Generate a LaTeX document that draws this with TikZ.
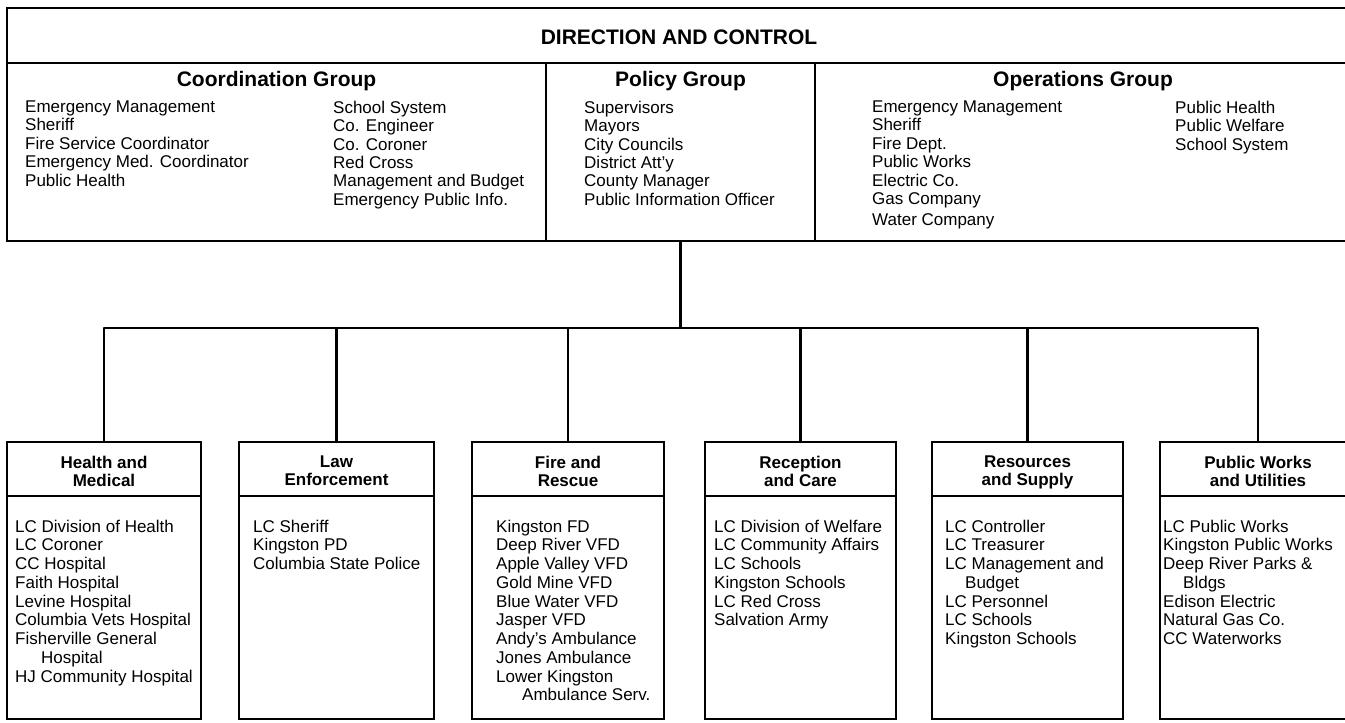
\documentclass[tikz,border=0pt]{standalone}
\usepackage{fontspec}
\setmainfont{Liberation Sans}
\begin{document}
\begin{tikzpicture}[x=1pt,y=-1pt,
  boxframe/.style={draw, line width=2.6pt, rectangle, inner sep=0pt, outer sep=0pt, anchor=north west},
  link/.style={line width=2.6pt, line join=round},
  bigtxt/.style={font=\bfseries\fontsize{21}{24}\selectfont, anchor=base, inner sep=0pt},
  headtxt/.style={font=\bfseries\fontsize{17}{18}\selectfont, align=center, anchor=north, inner sep=0pt},
  toplist/.style={font=\fontsize{17}{18.4}\selectfont, align=left, anchor=north west, inner sep=0pt},
  sublist/.style={font=\fontsize{17}{18.75}\selectfont, align=left, anchor=north west, inner sep=0pt}]
\clip (0,0) rectangle (1345,723);
\fill[white] (0,0) rectangle (1345,723);

% Direction and control frame
\node[boxframe, minimum width=1344pt, minimum height=55pt] (dc) at (7,8) {};
\node[boxframe, minimum width=539pt, minimum height=178pt] (coord) at (7,63) {};
\node[boxframe, minimum width=269pt, minimum height=178pt] (policy) at (546,63) {};
\node[boxframe, minimum width=536pt, minimum height=178pt] (ops) at (815,63) {};

\node[bigtxt] (dct) at (679,44.5) {DIRECTION AND CONTROL};
\node[bigtxt] (coordt) at (276.5,86) {Coordination Group};
\node[bigtxt] (policyt) at (680.5,86) {Policy Group};
\node[bigtxt] (opst) at (1083,86) {Operations Group};

\node[toplist] (coordA) at (25,100.7) {Emergency Management\\Sheriff\\Fire Service Coordinator\\Emergency Med. Coordinator\\Public Health};
\node[toplist] (coordB) at (333,100.7) {School System\\Co. Engineer\\Co. Coroner\\Red Cross\\Management and Budget\\Emergency Public Info.};
\node[toplist] (policyA) at (584,100.7) {Supervisors\\Mayors\\City Councils\\District Att'y\\County Manager\\Public Information Officer};
\node[toplist] (opsA) at (872,100.7) {Emergency Management\\Sheriff\\Fire Dept.\\Public Works\\Electric Co.\\Gas Company\\[2.6pt]Water Company};
\node[toplist] (opsB) at (1175,100.7) {Public Health\\Public Welfare\\School System};

% Functional branches
\node[boxframe, minimum width=194pt, minimum height=277pt] (hm) at (7,442) {};
\node[boxframe, minimum width=195pt, minimum height=277pt] (le) at (239,442) {};
\node[boxframe, minimum width=192pt, minimum height=277pt] (fr) at (472,442) {};
\node[boxframe, minimum width=191pt, minimum height=277pt] (rc) at (705,442) {};
\node[boxframe, minimum width=191pt, minimum height=277pt] (rs) at (932,442) {};
\node[boxframe, minimum width=196pt, minimum height=277pt] (pw) at (1160,442) {};

\coordinate (hl) at (0,496);
\foreach \b in {hm,le,fr,rc,rs,pw}
  \draw[link] (\b.west |- hl) -- (\b.east |- hl);

\node[headtxt] (hmh) at (104,455.7) {Health and\\Medical};
\node[headtxt] (leh) at (336.5,455.7) {Law\\Enforcement};
\node[headtxt] (frh) at (568,455.7) {Fire and\\Rescue};
\node[headtxt] (rch) at (800.5,455.7) {Reception\\and Care};
\node[headtxt] (rsh) at (1027.5,455.7) {Resources\\and Supply};
\node[headtxt] (pwh) at (1258,455.7) {Public Works\\and Utilities};

\node[sublist] (hml) at (15,519.7) {LC Division of Health\\LC Coroner\\CC Hospital\\Faith Hospital\\Levine Hospital\\Columbia Vets Hospital\\Fisherville General\\\hspace*{26pt}Hospital\\HJ Community Hospital};
\node[sublist] (lel) at (253,519.7) {LC Sheriff\\Kingston PD\\Columbia State Police};
\node[sublist] (frl) at (496,519.7) {Kingston FD\\Deep River VFD\\Apple Valley VFD\\Gold Mine VFD\\Blue Water VFD\\Jasper VFD\\Andy's Ambulance\\Jones Ambulance\\Lower Kingston\\\hspace*{26pt}Ambulance Serv.};
\node[sublist] (rcl) at (714,519.7) {LC Division of Welfare\\LC Community Affairs\\LC Schools\\Kingston Schools\\LC Red Cross\\Salvation Army};
\node[sublist] (rsl) at (945,519.7) {LC Controller\\LC Treasurer\\LC Management and\\\hspace*{20pt}Budget\\LC Personnel\\LC Schools\\Kingston Schools};
\node[sublist] (pwl) at (1163,519.7) {LC Public Works\\Kingston Public Works\\Deep River Parks \&\\\hspace*{20pt}Bldgs\\Edison Electric\\Natural Gas Co.\\CC Waterworks};

% Connectors
\coordinate (bus) at (policy.south |- 0,328);
\draw[link] (policy.south) -- (bus);
\draw[link] (hm.north) |- (bus) -| (pw.north);
\foreach \b in {le,fr,rc,rs}
  \draw[link] (\b.north) -- (\b.north |- bus);
\end{tikzpicture}
\end{document}
